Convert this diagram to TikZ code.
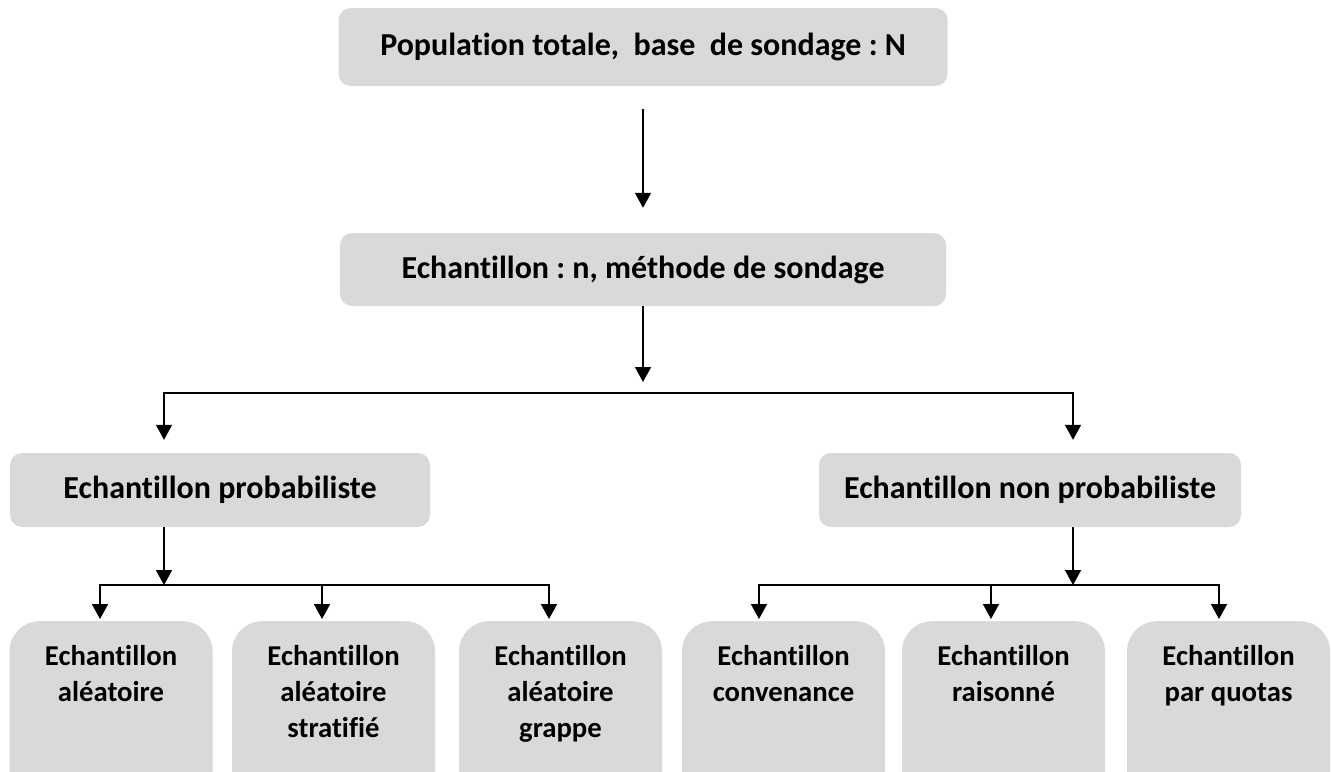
\documentclass[tikz,border=0pt]{standalone}
\usepackage{fontspec}
\setmainfont{Carlito}[Ligatures=NoCommon]
\usetikzlibrary{arrows.meta}
\definecolor{boxgray}{HTML}{D9D9D9}
\frenchspacing

% Text of a lower box, set from its top edge
\newcommand{\leaftext}[1]{\parbox[t][190pt][t]{203pt}{\centering\rule{0pt}{44pt}#1}}

\begin{document}
\begin{tikzpicture}[x=1pt, y=-1pt]

                % Styles of the boxes and of the arrows between them
                \tikzset{
                    topbox/.style={fill=boxgray, rounded corners=12pt, inner sep=0pt,
                        font=\fontsize{32}{38}\selectfont\bfseries},
                    leafbox/.style={fill=boxgray, rounded corners=30pt, inner sep=0pt,
                        anchor=north, font=\fontsize{28.7}{36}\selectfont\bfseries},
                    arr/.style={line width=1.8pt, -{Triangle[width=16pt, length=15pt]}},
                    arrboth/.style={line width=1.8pt,
                        {Triangle[width=16pt, length=15pt]}-{Triangle[width=16pt, length=15pt]}}
                }

                % Page of the picture, the lower boxes run off its bottom
                \path[use as bounding box] (0, 0) rectangle (1332, 771);
                \clip (0, 0) rectangle (1332, 771);

                % Upper boxes
                \node (pop) at (643, 47) [topbox, minimum width=609pt, minimum height=78pt]
                    {Population totale,\ \ base\ \ de sondage : N};
                \node (ech) at (643, 269.5) [topbox, minimum width=606pt, minimum height=73pt]
                    {Echantillon : n, méthode de sondage};
                \node (prob) at (220, 490) [topbox, minimum width=420pt, minimum height=74pt]
                    {Echantillon probabiliste};
                \node (nonprob) at (1030, 490) [topbox, minimum width=422pt, minimum height=74pt]
                    {Echantillon non probabiliste};

                % Lower boxes
                \node (ale) at (111, 621) [leafbox] {\leaftext{Echantillon\\aléatoire}};
                \node (strat) at (333.5, 621) [leafbox] {\leaftext{Echantillon\\aléatoire\\stratifié}};
                \node (grap) at (560.5, 621) [leafbox] {\leaftext{Echantillon\\aléatoire\\grappe}};
                \node (conv) at (783.5, 621) [leafbox] {\leaftext{Echantillon\\convenance}};
                \node (rais) at (1003.5, 621) [leafbox] {\leaftext{Echantillon\\raisonné}};
                \node (quot) at (1228.5, 621) [leafbox] {\leaftext{Echantillon\\par quotas}};

                % Points where the arrows meet the bars
                \coordinate (split) at (643, 393);
                \coordinate (bl) at (164, 393);
                \coordinate (br) at (1073, 393);
                \coordinate (la) at (100, 585);
                \coordinate (lb) at (322, 585);
                \coordinate (lc) at (549, 585);
                \coordinate (ra) at (759, 585);
                \coordinate (rb) at (991, 585);
                \coordinate (rc) at (1219, 585);

                \draw[arr, shorten <=23pt, shorten >=25pt] (pop.south) -- (ech.north);
                \draw[arr, shorten >=11pt] (ech.south) -- (split);
                \draw[arrboth, shorten <=13pt, shorten >=13pt]
                    (bl |- prob.north) -- (bl) -- (br) -- (br |- nonprob.north);

                % Bars over the lower boxes
                \draw[arr] (prob.south -| bl) -- (bl |- la);
                \draw[arr] (nonprob.south -| br) -- (br |- ra);
                \draw[arrboth, shorten <=2pt, shorten >=2pt]
                    (la |- ale.north) -- (la) -- (lc) -- (lc |- grap.north);
                \draw[arrboth, shorten <=2pt, shorten >=2pt]
                    (ra |- conv.north) -- (ra) -- (rc) -- (rc |- quot.north);
                \foreach \c/\b in {lb/strat, rb/rais}
                    \draw[arr, shorten >=2pt] (\c) -- (\c |- \b.north);

\end{tikzpicture}
\end{document}
